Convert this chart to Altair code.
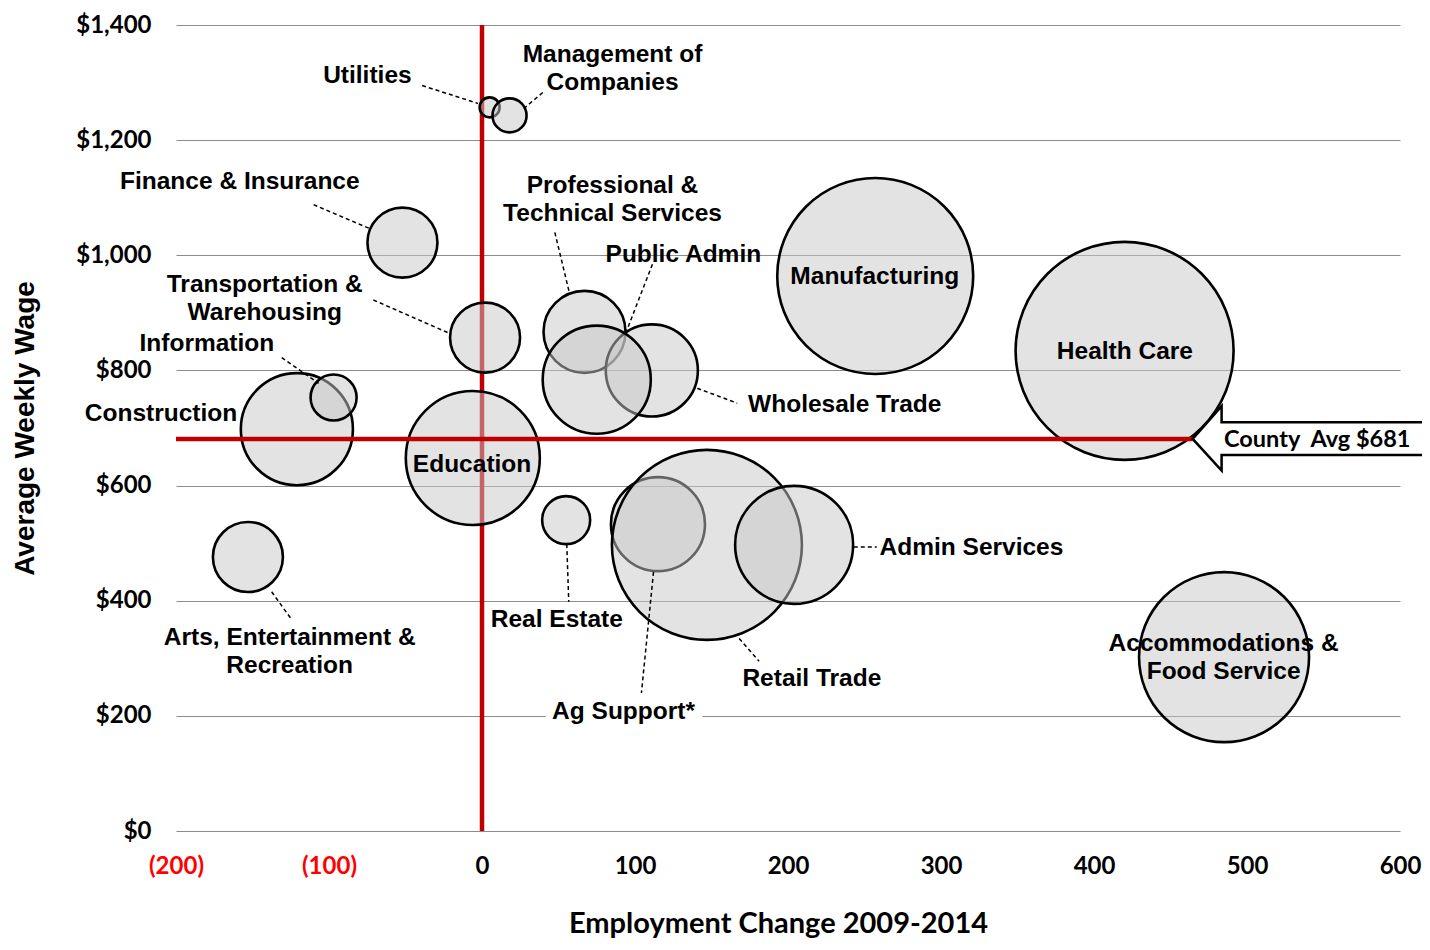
import altair as alt
import pandas as pd

# ---- data ----
industries = ["Ag Support*", "Retail Trade", "Admin Services", "Professional & Technical Services",
              "Wholesale Trade", "Public Admin", "Construction", "Information", "Utilities",
              "Management of Companies", "Finance & Insurance", "Transportation & Warehousing",
              "Education", "Manufacturing", "Health Care", "Real Estate",
              "Arts, Entertainment & Recreation", "Accommodations & Food Service"]
emp_change = [115, 147, 204, 67, 111, 75, -121, -97, 5, 18, -52, 2, -6, 257, 420, 55, -153, 485]
avg_wage = [533, 497, 497, 867, 800, 784, 698, 753, 1257, 1243, 1022, 857, 648, 964, 834, 540, 476, 302]
employment = [2210, 9025, 3480, 1680, 2120, 2920, 3140, 530, 100, 290, 1225, 1225, 4490, 9600, 11880, 576, 1225, 7225]

county_avg = 681

# label text and label anchor positions (data coordinates; first line for multi-line labels)
label_text = ["Utilities", "Management of\nCompanies", "Finance & Insurance",
              "Professional &\nTechnical Services", "Public Admin", "Manufacturing",
              "Transportation &\nWarehousing", "Information", "Health Care", "Wholesale Trade",
              "Construction", "Education", "Admin Services", "Real Estate",
              "Arts, Entertainment &\nRecreation", "Accommodations &\nFood Service",
              "Retail Trade", "Ag Support*"]
label_x = [-74.9, 85.3, -158.3, 85.3, 131.6, 256.7, -142, -179.8, 420.2, 237.1,
           -209.8, -6.5, 319.9, 48.9, -125.7, 484.7, 215.6, 92.5]
label_y = [1312, 1348.3, 1127.6, 1120.7, 1000, 962, 948.3, 846.6, 832.8, 739.7,
           724, 636.2, 491.4, 367.2, 334.5, 324.1, 263.8, 206.9]

# leader lines (start -> end, data coordinates)
lead_x1 = [-39.1, 39.7, -110.1, 47.6, 111.4, -71.0, -130.9, 140.7, 243.0, 55.4, -137.5, 168.1, 112.1]
lead_y1 = [1294.8, 1282.8, 1087.9, 1039.7, 984.5, 922.4, 822.4, 769.0, 493.1, 498.3, 415.5, 334.5, 450.0]
lead_x2 = [-2.6, 26.7, -73.6, 57.3, 93.8, -20.8, -106.8, 166.8, 258.0, 56.7, -124.4, 181.1, 104.2]
lead_y2 = [1263.8, 1253.4, 1046.6, 932.8, 863.8, 863.8, 777.6, 743.1, 493.1, 398.3, 367.2, 294.8, 239.7]

# callout arrow outline (path order)
arrow_x = [640, 483.4, 483.4, 464.5, 483.4, 483.4, 640]
arrow_y = [710, 710, 738, 681, 626, 653, 653]

# ---- tables ----
bubbles = pd.DataFrame({"industry": industries, "x": emp_change, "y": avg_wage,
                        "emp": employment, "ord": list(range(len(industries)))})
labels = pd.DataFrame({"t": label_text, "x": label_x, "y": label_y})
leaders = pd.DataFrame({"x": lead_x1, "y": lead_y1, "x2": lead_x2, "y2": lead_y2})
arrow_path = pd.DataFrame({"x": arrow_x, "y": arrow_y, "i": list(range(len(arrow_x)))})
arrow_head = pd.DataFrame({"x": [arrow_x[3], arrow_x[2]], "y": [arrow_y[3], arrow_y[2]],
                           "y2": [arrow_y[3], arrow_y[4]]})
arrow_shaft = pd.DataFrame({"x": [arrow_x[1]], "x2": [arrow_x[0]], "y": [arrow_y[0]], "y2": [arrow_y[5]]})

XSCALE = alt.Scale(domain=[-200, 600], nice=False, zero=False)
YSCALE = alt.Scale(domain=[0, 1400], nice=False, zero=False)

XAXIS = alt.Axis(
    values=list(range(-200, 601, 100)),
    labelExpr="datum.value < 0 ? '(' + format(-datum.value, 'd') + ')' : format(datum.value, 'd')",
    labelColor={"condition": {"test": "datum.value < 0", "value": "#ff0000"}, "value": "#000000"},
    grid=False, domain=False, ticks=False, labelFlush=False, labelOverlap=False,
    labelFont="Lato", labelFontSize=24, labelFontWeight="bold", labelPadding=23,
    title="Employment Change 2009-2014", titleFont="Lato", titleFontSize=29,
    titleFontWeight="bold", titleColor="#000000", titlePadding=31, titleX=602,
)
YAXIS = alt.Axis(
    values=list(range(0, 1401, 200)), format="$,d",
    grid=True, gridColor="#8c8c8c", gridWidth=1.2, domain=False, ticks=False,
    labelFlush=False, labelOverlap=False,
    labelFont="Lato", labelFontSize=24, labelFontWeight="bold", labelPadding=25,
    labelColor="#000000",
    title="Average Weekly Wage", titleFont="Liberation Sans", titleFontSize=28,
    titleFontWeight="bold", titleColor="#000000", titlePadding=36,
)


def X(field="x"):
    return alt.X(f"{field}:Q", scale=XSCALE, axis=XAXIS)


def Y(field="y"):
    return alt.Y(f"{field}:Q", scale=YSCALE, axis=YAXIS)


# white gap behind "Ag Support*" on the $200 gridline
gap = alt.Chart(pd.DataFrame({"x": [41.7], "x2": [144.0], "y": [200]})).mark_rule(
    color="white", strokeWidth=6
).encode(x=X(), x2="x2:Q", y=Y())

vline = alt.Chart(pd.DataFrame({"x": [0], "y": [0], "y2": [1400]})).mark_rule(
    color="#c00000", strokeWidth=4.5
).encode(x=X(), y=Y(), y2="y2:Q")

circles = alt.Chart(bubbles).mark_circle(
    fill="#c8c8c8", fillOpacity=0.5, stroke="#000000", strokeWidth=2.6, opacity=1
).encode(
    x=X(), y=Y(),
    size=alt.Size("emp:Q", scale=alt.Scale(domain=[0, 11880], range=[0, 47520]), legend=None),
    order=alt.Order("ord:Q"),
)

hline = alt.Chart(pd.DataFrame({"x": [-200], "x2": [464.5], "y": [county_avg]})).mark_rule(
    color="#c00000", strokeWidth=4.5
).encode(x=X(), x2="x2:Q", y=Y())

leader_lines = alt.Chart(leaders).mark_rule(
    color="#000000", strokeWidth=1.5, strokeDash=[4, 3]
).encode(x=X(), y=Y(), x2="x2:Q", y2="y2:Q")

head_fill = alt.Chart(arrow_head).mark_area(
    fill="white", opacity=1, clip=False
).encode(x=X(), y=Y(), y2="y2:Q")

shaft_fill = alt.Chart(arrow_shaft).mark_rect(
    fill="white", opacity=1, clip=False
).encode(x=X(), x2="x2:Q", y=Y(), y2="y2:Q")

callout_line = alt.Chart(arrow_path).mark_line(
    color="#000000", strokeWidth=2.5, clip=False, strokeJoin="miter"
).encode(x=X(), y=Y(), order=alt.Order("i:Q"))

callout_text = alt.Chart(pd.DataFrame({"x": [485.0], "y": [county_avg], "t": ["County\u00a0 Avg $681"]})).mark_text(
    align="left", baseline="middle", font="Lato", fontSize=23.5, fontWeight="bold",
    color="#000000", clip=False, dy=1
).encode(x=X(), y=Y(), text="t:N")

label_marks = alt.Chart(labels).mark_text(
    align="center", baseline="middle", font="Liberation Sans", fontSize=24.5, fontWeight="bold",
    color="#000000", lineBreak="\n", lineHeight=28, clip=False
).encode(x=X(), y=Y(), text="t:N")

chart = alt.layer(
    gap, vline, circles, hline, leader_lines, head_fill, shaft_fill, callout_line,
    callout_text, label_marks
).properties(
    width=1224, height=806, autosize="none",
    padding={"left": 168, "top": 17, "right": 22, "bottom": 107},
    background="white",
).configure_view(stroke=None)

chart.save("out.html", embed_options={"renderer": "svg", "actions": False})
